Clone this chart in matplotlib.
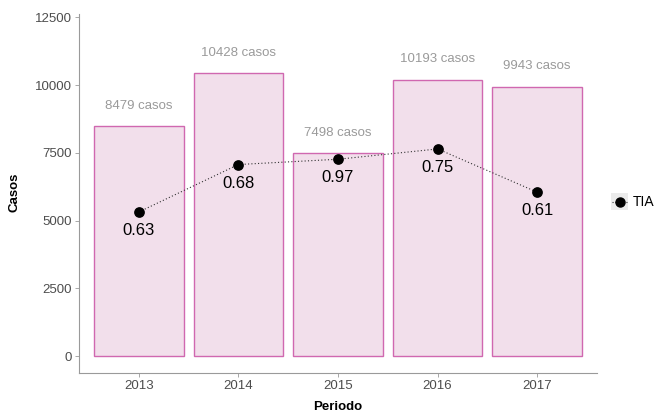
import matplotlib
matplotlib.use("Agg")
import matplotlib.pyplot as plt
from matplotlib.lines import Line2D
from matplotlib.patches import Rectangle

plt.rcParams['font.family'] = ['Liberation Sans', 'DejaVu Sans']

periods = ["2013", "2014", "2015", "2016", "2017"]
cases = [8479, 10428, 7498, 10193, 9943]
tia_pos = [5320, 7070, 7265, 7645, 6050]
tia_labels = ["0.63", "0.68", "0.97", "0.75", "0.61"]
yticks = [0, 2500, 5000, 7500, 10000, 12500]

W, H = 654, 417
fig = plt.figure(figsize=(W/100, H/100), dpi=100)
ax = fig.add_axes([79/W, 1-373/H, (597-79)/W, (373-14)/H])

x = list(range(1, len(periods)+1))
ax.bar(x, cases, width=0.9, color="#F2DFEB", edgecolor="#D068B0", linewidth=1.0, zorder=1)
for xi, c in zip(x, cases):
    ax.text(xi, c + 750, f"{c} casos", ha="center", va="center", fontsize=9.5, color="#9A9A9A")

ax.plot(x, tia_pos, linestyle=(0, (1, 2)), color="#333333", linewidth=0.8, zorder=2)
ax.scatter(x, tia_pos, s=45, color="black", zorder=3)
for xi, p, lab in zip(x, tia_pos, tia_labels):
    ax.text(xi, p - 690, lab, ha="center", va="center", fontsize=12, color="black")

ax.set_xlim(0.4, 5.6)
ax.set_ylim(-616, 12620)
ax.set_xticks(x)
ax.set_xticklabels(periods)
ax.set_yticks(yticks)
ax.tick_params(colors="#9A9A9A", labelcolor="#4D4D4D", labelsize=9.5, length=3, width=0.6, pad=2)
for s in ["top", "right"]:
    ax.spines[s].set_visible(False)
for s in ["left", "bottom"]:
    ax.spines[s].set_color("#9A9A9A")
    ax.spines[s].set_linewidth(0.8)

fig.text(338/W, 1-407/H, "Periodo", ha="center", va="center", fontsize=9.5, fontweight="bold")
fig.text(15/W, 1-192/H, "Casos", ha="center", va="center", rotation=90, fontsize=9.5, fontweight="bold")

# manual legend
fig.patches.append(Rectangle((611/W, 1-210/H), 17/W, 17/H, transform=fig.transFigure,
                             facecolor="#EBEBEB", edgecolor="none", figure=fig))
fig.lines.append(Line2D([612/W, 627/W], [1-202/H, 1-202/H], transform=fig.transFigure,
                        linestyle=(0, (1, 1.5)), color="#333333", linewidth=0.8, figure=fig))
fig.lines.append(Line2D([619.5/W], [1-202/H], transform=fig.transFigure, marker="o",
                        markersize=6.5, color="black", linestyle="none", figure=fig))
fig.text(633/W, 1-202/H, "TIA", ha="left", va="center", fontsize=10)

fig.savefig("out.png", dpi=100)
